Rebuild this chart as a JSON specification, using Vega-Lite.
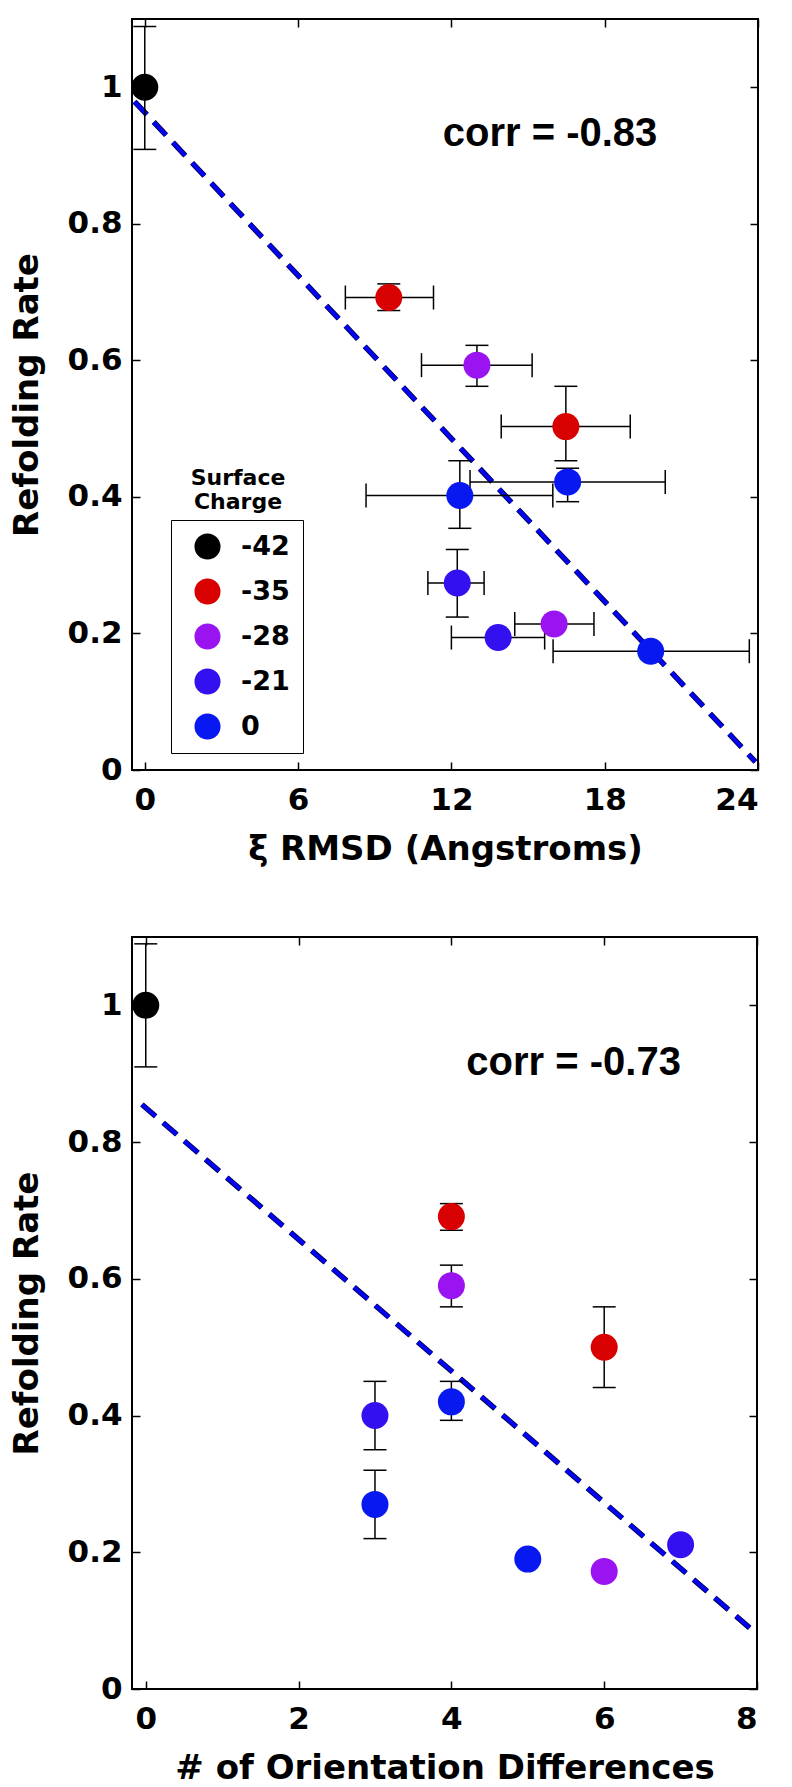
{
  "$schema": "https://vega.github.io/schema/vega-lite/v6.json",
  "padding": {"left": 9, "top": 17, "right": 0, "bottom": 0},
  "background": "white",
  "datasets": {
    "rmsd": [
      {"x": 0, "y": 1.0, "charge": "-42", "ylo": 0.909, "yhi": 1.089, "xlo": null, "xhi": null},
      {"x": 9.55, "y": 0.692, "charge": "-35", "ylo": 0.673, "yhi": 0.712, "xlo": 7.85, "xhi": 11.3},
      {"x": 13.0, "y": 0.593, "charge": "-28", "ylo": 0.562, "yhi": 0.622, "xlo": 10.83, "xhi": 15.16},
      {"x": 16.48, "y": 0.503, "charge": "-35", "ylo": 0.453, "yhi": 0.562, "xlo": 13.95, "xhi": 19.0},
      {"x": 16.55, "y": 0.422, "charge": "0", "ylo": 0.393, "yhi": 0.442, "xlo": 12.73, "xhi": 20.37},
      {"x": 12.33, "y": 0.402, "charge": "0", "ylo": 0.354, "yhi": 0.453, "xlo": 8.66, "xhi": 15.97},
      {"x": 12.23, "y": 0.274, "charge": "-21", "ylo": 0.224, "yhi": 0.323, "xlo": 11.08, "xhi": 13.28},
      {"x": 13.83, "y": 0.194, "charge": "-21", "ylo": null, "yhi": null, "xlo": 12.0, "xhi": 15.65},
      {"x": 16.02, "y": 0.214, "charge": "-28", "ylo": null, "yhi": null, "xlo": 14.48, "xhi": 17.58},
      {"x": 19.8, "y": 0.174, "charge": "0", "ylo": null, "yhi": null, "xlo": 15.98, "xhi": 23.66}
    ],
    "orientation": [
      {"x": 0, "y": 1.0, "charge": "-42", "ylo": 0.91, "yhi": 1.09},
      {"x": 4, "y": 0.691, "charge": "-35", "ylo": 0.671, "yhi": 0.71},
      {"x": 4, "y": 0.59, "charge": "-28", "ylo": 0.559, "yhi": 0.62},
      {"x": 6, "y": 0.5, "charge": "-35", "ylo": 0.441, "yhi": 0.559},
      {"x": 4, "y": 0.42, "charge": "0", "ylo": 0.393, "yhi": 0.45},
      {"x": 3, "y": 0.4, "charge": "-21", "ylo": 0.35, "yhi": 0.45},
      {"x": 3, "y": 0.27, "charge": "0", "ylo": 0.22, "yhi": 0.32},
      {"x": 5, "y": 0.19, "charge": "0", "ylo": null, "yhi": null},
      {"x": 6, "y": 0.172, "charge": "-28", "ylo": null, "yhi": null},
      {"x": 7, "y": 0.211, "charge": "-21", "ylo": null, "yhi": null}
    ],
    "fit1": [{"x": -0.4, "y": 0.979}, {"x": 23.9, "y": 0.012}],
    "fit2": [{"x": -0.05, "y": 0.855}, {"x": 7.95, "y": 0.085}],
    "corr1": [{"x": 15.86, "y": 0.932, "label": "corr = -0.83"}],
    "corr2": [{"x": 5.6, "y": 0.916, "label": "corr = -0.73"}],
    "legendTitle": [{"x": 3.65, "y": 0.427, "label": "Surface\nCharge"}]
  },
  "vconcat": [
    {
      "width": 626,
      "height": 751,
      "layer": [
        {
          "layer": [
            {
              "data": {"name": "fit1"},
              "mark": {"type": "line", "color": "#000033", "strokeWidth": 5.5, "strokeDash": [18, 10], "strokeCap": "butt"},
              "encoding": {
                "x": {"field": "x", "type": "quantitative", "scale": {"domain": [-0.5, 24], "nice": false, "zero": false},
                  "axis": {"values": [0, 6, 12, 18, 24], "format": "d", "title": "ξ RMSD (Angstroms)"}},
                "y": {"field": "y", "type": "quantitative", "scale": {"domain": [0, 1.1], "nice": false, "zero": false},
                  "axis": {"values": [0, 0.2, 0.4, 0.6, 0.8, 1], "format": ".1~f", "title": "Refolding Rate"}}
              }
            },
            {
              "data": {"name": "fit1"},
              "mark": {"type": "line", "color": "#0404f4", "strokeWidth": 4, "strokeDash": [18, 10], "strokeCap": "butt"},
              "encoding": {
                "x": {"field": "x", "type": "quantitative", "title": "ξ RMSD (Angstroms)"},
                "y": {"field": "y", "type": "quantitative", "title": "Refolding Rate"}
              }
            },
            {
              "data": {"name": "rmsd"},
              "mark": {"type": "rule", "color": "#000000", "strokeWidth": 1.5},
              "encoding": {
                "x": {"field": "x", "type": "quantitative", "title": "ξ RMSD (Angstroms)"},
                "y": {"field": "ylo", "type": "quantitative", "title": "Refolding Rate"},
                "y2": {"field": "yhi"}
              }
            },
            {
              "data": {"name": "rmsd"},
              "mark": {"type": "rule", "color": "#000000", "strokeWidth": 1.5},
              "encoding": {
                "x": {"field": "xlo", "type": "quantitative", "title": "ξ RMSD (Angstroms)"},
                "x2": {"field": "xhi"},
                "y": {"field": "y", "type": "quantitative", "title": "Refolding Rate"}
              }
            },
            {
              "data": {"name": "rmsd"},
              "mark": {"type": "tick", "orient": "horizontal", "size": 23, "thickness": 1.5, "color": "#000000", "opacity": 1},
              "encoding": {
                "x": {"field": "x", "type": "quantitative", "title": "ξ RMSD (Angstroms)"},
                "y": {"field": "ylo", "type": "quantitative", "title": "Refolding Rate"}
              }
            },
            {
              "data": {"name": "rmsd"},
              "mark": {"type": "tick", "orient": "horizontal", "size": 23, "thickness": 1.5, "color": "#000000", "opacity": 1},
              "encoding": {
                "x": {"field": "x", "type": "quantitative", "title": "ξ RMSD (Angstroms)"},
                "y": {"field": "yhi", "type": "quantitative", "title": "Refolding Rate"}
              }
            },
            {
              "data": {"name": "rmsd"},
              "mark": {"type": "tick", "orient": "vertical", "size": 24, "thickness": 1.5, "color": "#000000", "opacity": 1},
              "encoding": {
                "x": {"field": "xlo", "type": "quantitative", "title": "ξ RMSD (Angstroms)"},
                "y": {"field": "y", "type": "quantitative", "title": "Refolding Rate"}
              }
            },
            {
              "data": {"name": "rmsd"},
              "mark": {"type": "tick", "orient": "vertical", "size": 24, "thickness": 1.5, "color": "#000000", "opacity": 1},
              "encoding": {
                "x": {"field": "xhi", "type": "quantitative", "title": "ξ RMSD (Angstroms)"},
                "y": {"field": "y", "type": "quantitative", "title": "Refolding Rate"}
              }
            },
            {
              "data": {"name": "rmsd"},
              "mark": {"type": "circle", "size": 729, "opacity": 1},
              "encoding": {
                "x": {"field": "x", "type": "quantitative", "title": "ξ RMSD (Angstroms)"},
                "y": {"field": "y", "type": "quantitative", "title": "Refolding Rate"},
                "color": {
                  "field": "charge", "type": "nominal",
                  "scale": {"domain": ["-42", "-35", "-28", "-21", "0"], "range": ["#000000", "#d80000", "#9a14f2", "#3210f0", "#0818f0"]},
                  "legend": {
                    "title": null, "orient": "none", "legendX": 39, "legendY": 501,
                    "strokeColor": "#000000", "fillColor": "#ffffff", "padding": 13,
                    "symbolType": "circle", "symbolSize": 680, "symbolStrokeWidth": 0, "symbolOffset": 10,
                    "labelFont": "DejaVu Sans", "labelFontWeight": "bold", "labelFontSize": 27, "labelColor": "#000000",
                    "labelOffset": 20, "rowPadding": 17,
                    "labelExpr": "datum.label == '0' ? '\u00a0\u00a00' : datum.label"
                  }
                }
              }
            },
            {
              "data": {"name": "corr1"},
              "mark": {"type": "text", "font": "Liberation Sans", "fontSize": 40, "align": "center", "baseline": "middle"},
              "encoding": {
                "x": {"field": "x", "type": "quantitative", "title": "ξ RMSD (Angstroms)"},
                "y": {"field": "y", "type": "quantitative", "title": "Refolding Rate"},
                "text": {"field": "label"}
              }
            },
            {
              "data": {"name": "legendTitle"},
              "mark": {"type": "text", "font": "DejaVu Sans", "fontSize": 22, "align": "center", "baseline": "middle", "lineBreak": "\n", "lineHeight": 24},
              "encoding": {
                "x": {"field": "x", "type": "quantitative", "title": "ξ RMSD (Angstroms)"},
                "y": {"field": "y", "type": "quantitative", "title": "Refolding Rate"},
                "text": {"field": "label"}
              }
            }
          ]
        },
        {
          "data": {"name": "rmsd"},
          "mark": {"type": "point", "opacity": 0},
          "encoding": {
            "x": {"field": "x", "type": "quantitative", "scale": {"domain": [-0.5, 24], "nice": false, "zero": false},
              "axis": {"orient": "top", "labels": false, "title": null, "values": [0, 6, 12, 18, 24]}},
            "y": {"field": "y", "type": "quantitative", "scale": {"domain": [0, 1.1], "nice": false, "zero": false},
              "axis": {"orient": "right", "labels": false, "title": null, "values": [0, 0.2, 0.4, 0.6, 0.8, 1]}}
          }
        }
      ],
      "resolve": {"axis": {"x": "independent", "y": "independent"}}
    },
    {
      "width": 625,
      "height": 752,
      "layer": [
        {
          "layer": [
            {
              "data": {"name": "fit2"},
              "mark": {"type": "line", "color": "#000033", "strokeWidth": 5.5, "strokeDash": [18, 10], "strokeCap": "butt"},
              "encoding": {
                "x": {"field": "x", "type": "quantitative", "scale": {"domain": [-0.18, 8], "nice": false, "zero": false},
                  "axis": {"values": [0, 2, 4, 6, 8], "format": "d", "title": "# of Orientation Differences"}},
                "y": {"field": "y", "type": "quantitative", "scale": {"domain": [0, 1.1], "nice": false, "zero": false},
                  "axis": {"values": [0, 0.2, 0.4, 0.6, 0.8, 1], "format": ".1~f", "title": "Refolding Rate"}}
              }
            },
            {
              "data": {"name": "fit2"},
              "mark": {"type": "line", "color": "#0404f4", "strokeWidth": 4, "strokeDash": [18, 10], "strokeCap": "butt"},
              "encoding": {
                "x": {"field": "x", "type": "quantitative", "title": "# of Orientation Differences"},
                "y": {"field": "y", "type": "quantitative", "title": "Refolding Rate"}
              }
            },
            {
              "data": {"name": "orientation"},
              "mark": {"type": "rule", "color": "#000000", "strokeWidth": 1.5},
              "encoding": {
                "x": {"field": "x", "type": "quantitative", "title": "# of Orientation Differences"},
                "y": {"field": "ylo", "type": "quantitative", "title": "Refolding Rate"},
                "y2": {"field": "yhi"}
              }
            },
            {
              "data": {"name": "orientation"},
              "mark": {"type": "tick", "orient": "horizontal", "size": 23, "thickness": 1.5, "color": "#000000", "opacity": 1},
              "encoding": {
                "x": {"field": "x", "type": "quantitative", "title": "# of Orientation Differences"},
                "y": {"field": "ylo", "type": "quantitative", "title": "Refolding Rate"}
              }
            },
            {
              "data": {"name": "orientation"},
              "mark": {"type": "tick", "orient": "horizontal", "size": 23, "thickness": 1.5, "color": "#000000", "opacity": 1},
              "encoding": {
                "x": {"field": "x", "type": "quantitative", "title": "# of Orientation Differences"},
                "y": {"field": "yhi", "type": "quantitative", "title": "Refolding Rate"}
              }
            },
            {
              "data": {"name": "orientation"},
              "mark": {"type": "circle", "size": 729, "opacity": 1},
              "encoding": {
                "x": {"field": "x", "type": "quantitative", "title": "# of Orientation Differences"},
                "y": {"field": "y", "type": "quantitative", "title": "Refolding Rate"},
                "color": {
                  "field": "charge", "type": "nominal",
                  "scale": {"domain": ["-42", "-35", "-28", "-21", "0"], "range": ["#000000", "#d80000", "#9a14f2", "#3210f0", "#0818f0"]},
                  "legend": null
                }
              }
            },
            {
              "data": {"name": "corr2"},
              "mark": {"type": "text", "font": "Liberation Sans", "fontSize": 40, "align": "center", "baseline": "middle"},
              "encoding": {
                "x": {"field": "x", "type": "quantitative", "title": "# of Orientation Differences"},
                "y": {"field": "y", "type": "quantitative", "title": "Refolding Rate"},
                "text": {"field": "label"}
              }
            }
          ]
        },
        {
          "data": {"name": "orientation"},
          "mark": {"type": "point", "opacity": 0},
          "encoding": {
            "x": {"field": "x", "type": "quantitative", "scale": {"domain": [-0.18, 8], "nice": false, "zero": false},
              "axis": {"orient": "top", "labels": false, "title": null, "values": [0, 2, 4, 6, 8]}},
            "y": {"field": "y", "type": "quantitative", "scale": {"domain": [0, 1.1], "nice": false, "zero": false},
              "axis": {"orient": "right", "labels": false, "title": null, "values": [0, 0.2, 0.4, 0.6, 0.8, 1]}}
          }
        }
      ],
      "resolve": {"axis": {"x": "independent", "y": "independent"}}
    }
  ],
  "spacing": 68,
  "resolve": {"legend": {"color": "independent"}},
  "config": {
    "view": {"stroke": "#000000", "strokeWidth": 2},
    "axis": {
      "grid": false, "domain": false,
      "tickColor": "#000000", "tickWidth": 1.5, "tickSize": -8,
      "labelFont": "DejaVu Sans", "labelFontWeight": "bold", "labelFontSize": 31, "labelColor": "#000000",
      "titleFont": "DejaVu Sans", "titleFontWeight": "bold", "titleFontSize": 34, "titleColor": "#000000"
    },
    "axisX": {"labelPadding": 23, "titlePadding": 17},
    "axisY": {"labelPadding": 18, "titlePadding": 23},
    "text": {"font": "DejaVu Sans", "fontWeight": "bold", "color": "#000000"}
  }
}
